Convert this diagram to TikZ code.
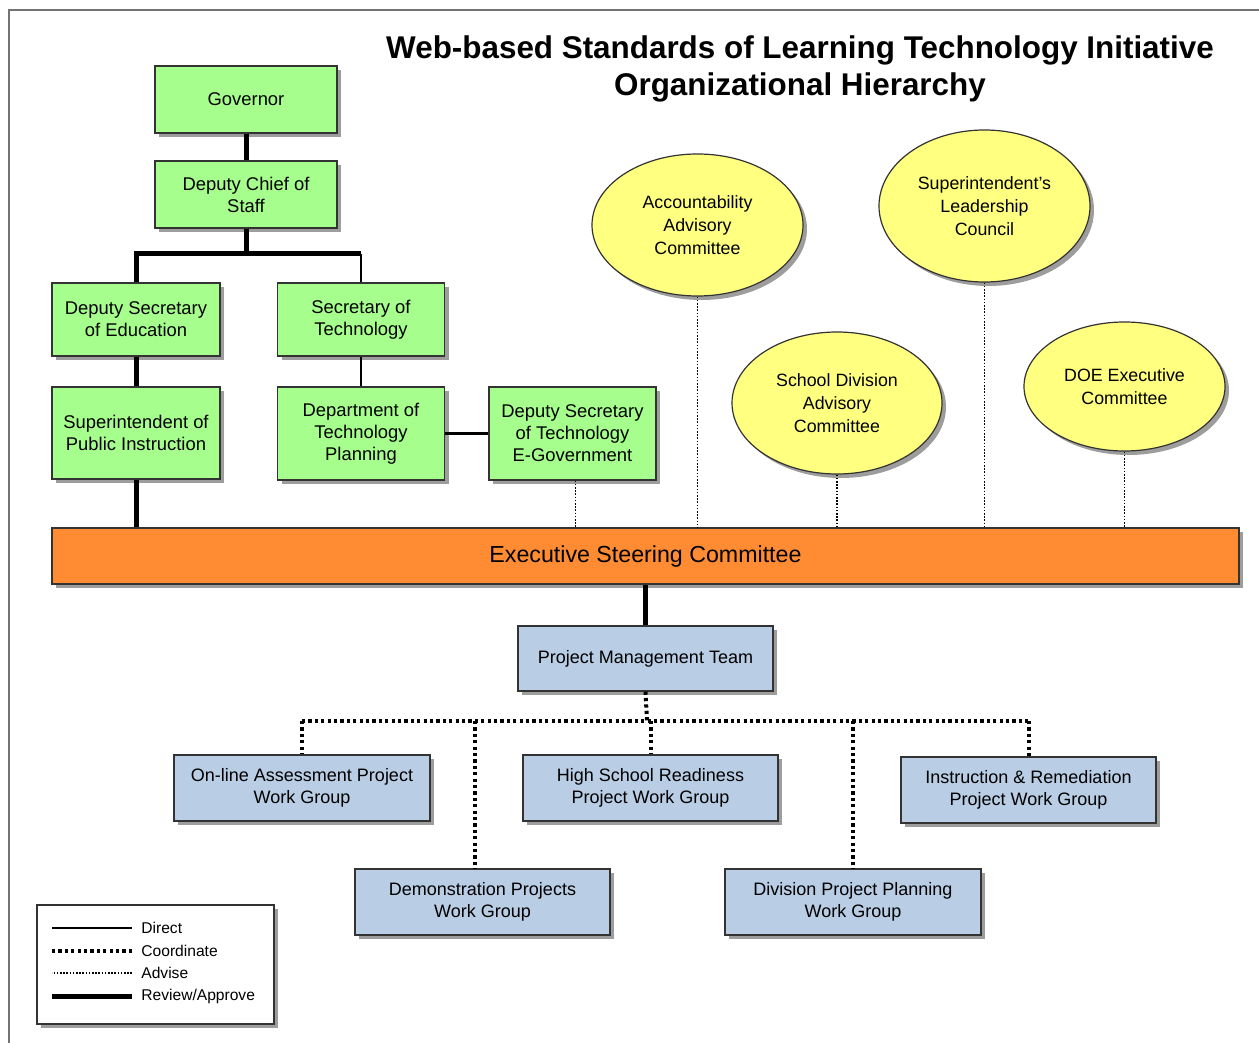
\documentclass[tikz,border=0pt]{standalone}
\usepackage{fontspec}
\setmainfont{Liberation Sans}
\usetikzlibrary{shapes.geometric,shadows}

\definecolor{govgreen}{RGB}{166,255,140}
\definecolor{advyellow}{RGB}{255,255,128}
\definecolor{teamblue}{RGB}{185,205,229}
\definecolor{escorange}{RGB}{255,140,51}

\tikzset{
  boxshadow/.style={drop shadow={shadow xshift=2pt,shadow yshift=-2pt,fill=black!55,opacity=.7}},
  greenbox/.style={draw=black!80, line width=.6pt, fill=govgreen, align=center, inner sep=0pt,
    font=\fontsize{9.2}{11}\selectfont, boxshadow},
  bluebox/.style={draw=black!80, line width=.6pt, fill=teamblue, align=center, inner sep=0pt,
    font=\fontsize{9}{11}\selectfont, boxshadow},
  advisor/.style={ellipse, draw=black!80, line width=.6pt, fill=advyellow, align=center, inner sep=0pt,
    font=\fontsize{8.9}{11.5}\selectfont, boxshadow},
  direct/.style={line width=1.2pt},
  review/.style={line width=2.5pt},
  coord/.style={line width=2pt, dash pattern=on 1.6pt off 1.6pt},
  advise/.style={line width=.9pt, dash pattern=on .8pt off .8pt},
  legtext/.style={anchor=west, inner sep=0pt, font=\fontsize{7.8}{9}\selectfont}
}

\begin{document}
\begin{tikzpicture}[x=0.5pt,y=-0.5pt]
\useasboundingbox (0,0) rectangle (1259,1043);
% frame
\draw[black!55, line width=1pt] (9,1043) -- (9,10) -- (1259,10);

% title
\node[align=center, font=\fontsize{15.7}{18.5}\selectfont\bfseries] (title) at (800,69)
  {Web-based Standards of Learning Technology Initiative\\Organizational Hierarchy};

% state side
\node[greenbox, minimum width=91pt, minimum height=33.5pt] (gov) at (246,99.5) {Governor};
\node[greenbox, minimum width=91pt, minimum height=33.5pt] (dcs) at (246,194.5) {Deputy Chief of\\Staff};
\node[greenbox, minimum width=84pt, minimum height=36.5pt] (dse) at (136,319.5) {Deputy Secretary\\of Education};
\node[greenbox, minimum width=83.5pt, minimum height=36.5pt] (sot) at (361,319.5) {Secretary of\\Technology};
\node[greenbox, minimum width=84pt, minimum height=46pt] (spi) at (136,433) {Superintendent of\\Public Instruction};
\node[greenbox, minimum width=83.5pt, minimum height=46.5pt] (dtp) at (361,433.5) {Department of\\Technology\\Planning};
\node[greenbox, minimum width=83.5pt, minimum height=46.5pt] (egov) at (572.5,433.5) {Deputy Secretary\\of Technology\\E-Government};

% advisory groups
\node[advisor, minimum width=105.5pt, minimum height=71pt] (aac) at (697.5,225) {Accountability\\Advisory\\Committee};
\node[advisor, minimum width=105.5pt, minimum height=76pt] (slc) at (984.5,206) {Superintendent’s\\Leadership\\Council};
\node[advisor, minimum width=105pt, minimum height=71pt] (sdac) at (837,403) {School Division\\Advisory\\Committee};
\node[advisor, minimum width=100.5pt, minimum height=64.5pt] (doe) at (1124.5,386.5) {DOE Executive\\Committee};

% steering committee
\node[draw=black!80, line width=.6pt, fill=escorange, minimum width=593.5pt, minimum height=28pt,
  inner sep=0pt, font=\fontsize{11.6}{13}\selectfont, boxshadow] (esc) at (645.5,556) {Executive Steering Committee};

% project teams
\node[bluebox, minimum width=127.5pt, minimum height=32.5pt] (pmt) at (645.5,658.5) {Project Management Team};
\node[bluebox, minimum width=128pt, minimum height=33pt] (olap) at (302,788) {On-line Assessment Project\\Work Group};
\node[bluebox, minimum width=127.5pt, minimum height=33pt] (demo) at (482.5,902) {Demonstration Projects\\Work Group};
\node[bluebox, minimum width=127.5pt, minimum height=33pt] (hsr) at (650.5,788) {High School Readiness\\Project Work Group};
\node[bluebox, minimum width=128pt, minimum height=33pt] (dpp) at (853,902) {Division Project Planning\\Work Group};
\node[bluebox, minimum width=127.5pt, minimum height=33pt] (irwg) at (1028.5,790) {Instruction \& Remediation\\Project Work Group};

% connectors
\coordinate (split) at (246,254);
\coordinate (hub) at (647,721);
\draw[review] (gov) -- (dcs);
\draw[review] (dcs) -- (split);
\draw[review] (dse.north) |- (sot.north |- split);
\draw[direct] (sot.north) -- (sot.north |- split);
\draw[review] (dse) -- (spi);
\draw[review] (spi) -- (spi |- esc.north);
\draw[direct] (sot) -- (dtp);
\draw[direct] (dtp) -- (egov);
\draw[advise] ([xshift=1.5pt]egov.south) -- ([xshift=1.5pt]egov.south |- esc.north);
\foreach \n in {aac,sdac,slc,doe}
  \draw[advise] (\n.south) -- (\n.south |- esc.north);
\draw[review] (esc) -- (pmt);
\draw[coord] (pmt.south) -- (hub);
\draw[coord] (olap.north |- hub) -- (irwg.north |- hub);
\foreach \n in {olap,hsr,dpp,irwg}
  \draw[coord] (hub -| \n.north) -- (\n.north);
\draw[coord] ([xshift=-3.8pt]demo.north |- hub) -- ([xshift=-3.8pt]demo.north);

% legend
\node[draw=black!80, line width=.6pt, fill=white, minimum width=118.5pt, minimum height=59.5pt, boxshadow] (legend) at (155.5,964.5) {};
\node[legtext] (ldirect) at (141,928) {Direct};
\node[legtext] (lcoord) at (141,951) {Coordinate};
\node[legtext] (ladvise) at (141,973) {Advise};
\node[legtext] (lreview) at (141,996) {Review/Approve};
\draw[direct] ([xshift=-4.5pt]ldirect.west) -- ++(-80,0);
\draw[coord] ([xshift=-4.5pt]lcoord.west) -- ++(-80,0);
\draw[advise] ([xshift=-4.5pt]ladvise.west) -- ++(-80,0);
\draw[review] ([xshift=-4.5pt]lreview.west) -- ++(-80,0);
\end{tikzpicture}
\end{document}
